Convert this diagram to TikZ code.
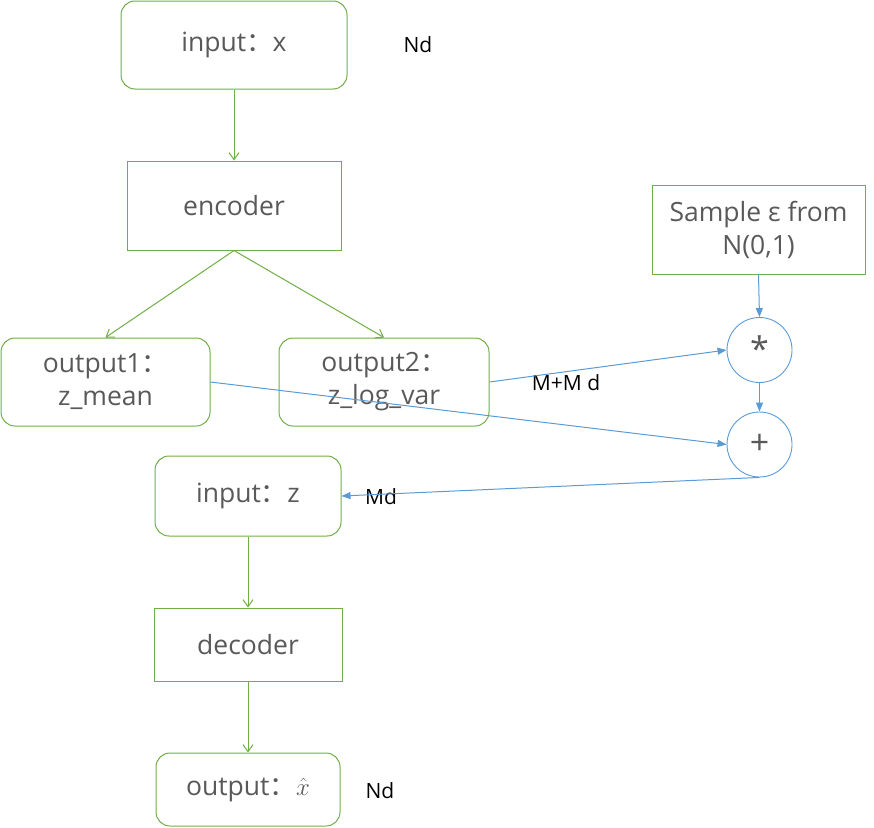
\documentclass[tikz,border=0pt]{standalone}
\usepackage{fontspec}
\setmainfont{Open Sans}
\newfontfamily\cjk{Noto Sans CJK SC}
\newcommand{\fwc}{{\cjk ：}}
\usetikzlibrary{arrows.meta}
\definecolor{grn}{HTML}{70AD47}
\definecolor{blu}{HTML}{5B9BD5}
\definecolor{txt}{HTML}{595959}
\tikzset{
 box/.style={draw=grn, line width=1pt, text=txt, font=\fontsize{26.5}{33}\selectfont, align=center, inner sep=0pt},
 rbox/.style={box, rounded corners=14pt},
 circ/.style={circle, draw=blu, line width=0.9pt, minimum size=65pt, inner sep=0pt, text=txt, font=\fontsize{34}{34}\selectfont},
 garrow/.style={draw=grn, line width=1pt, -{Straight Barb[length=7pt,width=10pt]}},
 barrow/.style={draw=blu, line width=1pt, -{Triangle[length=9pt,width=7pt]}},
 lbl/.style={text=black, font=\fontsize{21}{21}\selectfont, inner sep=0pt},
}
\begin{document}
\begin{tikzpicture}[x=1pt,y=-1pt]
\useasboundingbox (0,0) rectangle (874,827);
\node[rbox, minimum width=226pt, minimum height=88pt] (inx) at (234,45) {input\fwc x};
\node[box, minimum width=214pt, minimum height=89pt] (enc) at (234,205.5) {encoder};
\node[rbox, minimum width=209pt, minimum height=88pt] (out1) at (105.5,382) {output1\fwc\\ z\_mean};
\node[rbox, minimum width=210pt, minimum height=88pt] (out2) at (384,382) {output2\fwc\\ z\_log\_var};
\node[rbox, minimum width=186pt, minimum height=80pt] (inz) at (248,496) {input\fwc z};
\node[box, minimum width=188pt, minimum height=73pt] (dec) at (248,644.5) {decoder};
\node[rbox, minimum width=184pt, minimum height=73pt] (outx) at (248,789.5) {output\fwc$\hat{x}$};
\node[box, minimum width=213pt, minimum height=89pt] (samp) at (758.5,229.5) {Sample ε from\\N(0,1)};
\node[circ] (star) at (759.5,350) {\raisebox{2pt}{*}};
\node[circ] (plus) at (759.5,444.5) {+};
\node[lbl] (nd1) at (418,45) {Nd};
\node[lbl] (nd2) at (380,791) {Nd};
\node[lbl] (mmd) at (566,383) {M+M d};
\node[lbl] (md) at (381,497) {Md};
\draw[garrow] (inx.south) -- (enc.north);
\draw[garrow] (enc.south) -- (out1.north);
\draw[garrow] (enc.south) -- (out2.north);
\draw[garrow] (inz.south) -- (dec.north);
\draw[garrow] (dec.south) -- (outx.north);
\draw[barrow] (samp.south) -- (star.north);
\draw[barrow] (star.south) -- (plus.north);
\draw[barrow] (out2.east) -- (star.west);
\draw[barrow] (out1.east) -- (plus.west);
\draw[barrow] (plus.south) -- (inz.east);
\end{tikzpicture}
\end{document}
